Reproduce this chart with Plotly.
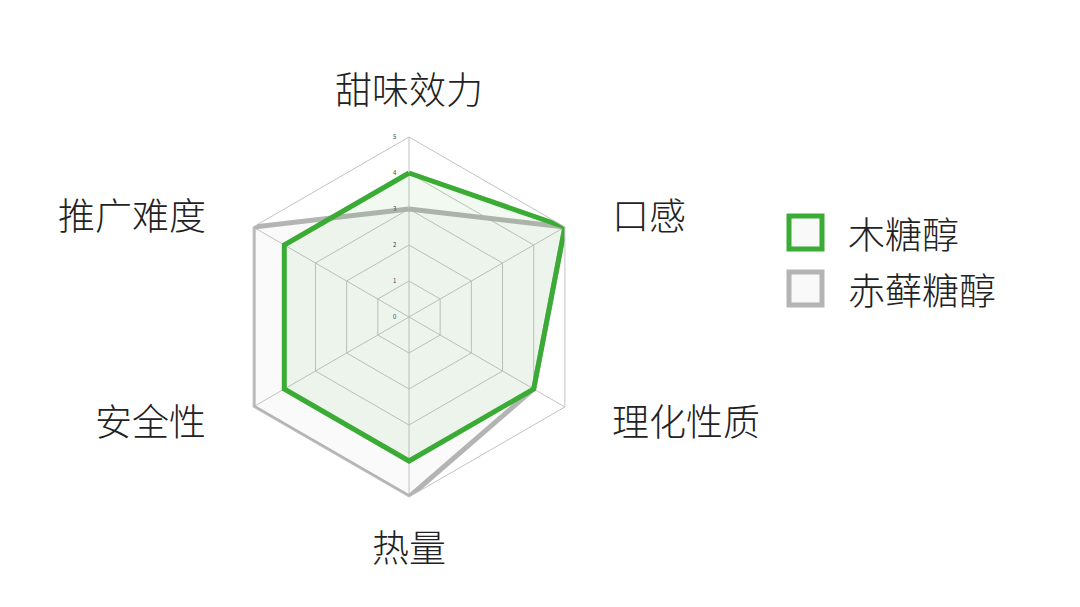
import math
import plotly.graph_objects as go

# 雷达图：木糖醇 vs 赤藓糖醇
categories = ["甜味效力", "口感", "理化性质", "热量", "安全性", "推广难度"]
xylitol = [4, 5, 4, 4, 4, 4]
erythritol = [3, 5, 4, 5, 5, 5]
series_names = ["木糖醇", "赤藓糖醇"]
radial_ticks = [0, 1, 2, 3, 4, 5]

GREEN = "#3aab34"
GREY = "#b4b4b4"
FILLS = ["rgba(58,171,52,0.07)", "rgba(190,190,190,0.08)"]
COLORS = [GREEN, GREY]
FONT = "Noto Sans CJK SC"
W, H = 1080, 607
OFF = 8  # 页面 body 默认 8px 边距

# 雷达中心和半径（像素）
CX, CY, R = 409, 317, 180


def px_x(x):
    return (x - OFF) / W


def px_y(y):
    return 1 - (y - OFF) / H


fig = go.Figure()

# 先画赤藓糖醇，木糖醇在上层
for name, vals, color, fill in reversed(
    list(zip(series_names, [xylitol, erythritol], COLORS, FILLS))
):
    fig.add_trace(
        go.Scatterpolar(
            r=vals + vals[:1],
            theta=categories + categories[:1],
            name=name,
            fill="toself",
            fillcolor=fill,
            line=dict(color=color, width=5),
            mode="lines",
            showlegend=False,
        )
    )

shapes = []
annotations = []

# 维度名称：放在每条轴外侧
for i, cat in enumerate(categories):
    t = math.radians(90 - 60 * i)
    c, s = math.cos(t), math.sin(t)
    xa = "left" if c > 0.1 else ("right" if c < -0.1 else "center")
    ya = "bottom" if s > 0.9 else ("top" if s < -0.9 else "middle")
    ry = 200 if abs(s) > 0.9 else 206
    annotations.append(
        dict(
            text=cat,
            xref="paper",
            yref="paper",
            x=px_x(CX + 232 * c),
            y=px_y(CY - ry * s),
            xanchor=xa,
            yanchor=ya,
            showarrow=False,
            font=dict(size=37, family=FONT, weight=300, color="#222222"),
        )
    )

# 图例：方框 + 文字
for i, (name, color, fill) in enumerate(zip(series_names, COLORS, FILLS)):
    top = 216 + i * 56
    shapes.append(
        dict(
            type="rect",
            xref="paper",
            yref="paper",
            x0=px_x(789),
            x1=px_x(822),
            y0=px_y(top),
            y1=px_y(top + 33),
            line=dict(color=color, width=5),
            fillcolor="rgba(245,245,245,0.6)",
        )
    )
    annotations.append(
        dict(
            text=name,
            xref="paper",
            yref="paper",
            x=px_x(846),
            y=px_y(top + 17),
            xanchor="left",
            yanchor="middle",
            showarrow=False,
            font=dict(size=37, family=FONT, weight=300, color="#222222"),
        )
    )

fig.update_layout(
    width=W,
    height=H,
    margin=dict(l=0, r=0, t=0, b=0),
    paper_bgcolor="white",
    plot_bgcolor="white",
    font=dict(family=FONT, color="#222222"),
    shapes=shapes,
    annotations=annotations,
    polar=dict(
        domain=dict(x=[px_x(CX - R), px_x(CX + R)], y=[px_y(CY + R), px_y(CY - R)]),
        bgcolor="white",
        gridshape="linear",
        angularaxis=dict(
            direction="clockwise",
            rotation=90,
            showticklabels=False,
            ticks="",
            gridcolor="#c2c2c2",
            linecolor="#c2c2c2",
            showline=True,
        ),
        radialaxis=dict(
            range=[0, 5],
            tickvals=radial_ticks,
            angle=90,
            tickangle=90,
            side="counterclockwise",
            ticks="outside",
            ticklen=10,
            tickcolor="rgba(0,0,0,0)",
            tickfont=dict(size=6, color="#444444"),
            gridcolor="#c2c2c2",
            linecolor="#c2c2c2",
            showline=False,
        ),
    ),
)

fig.write_html("out.html")
